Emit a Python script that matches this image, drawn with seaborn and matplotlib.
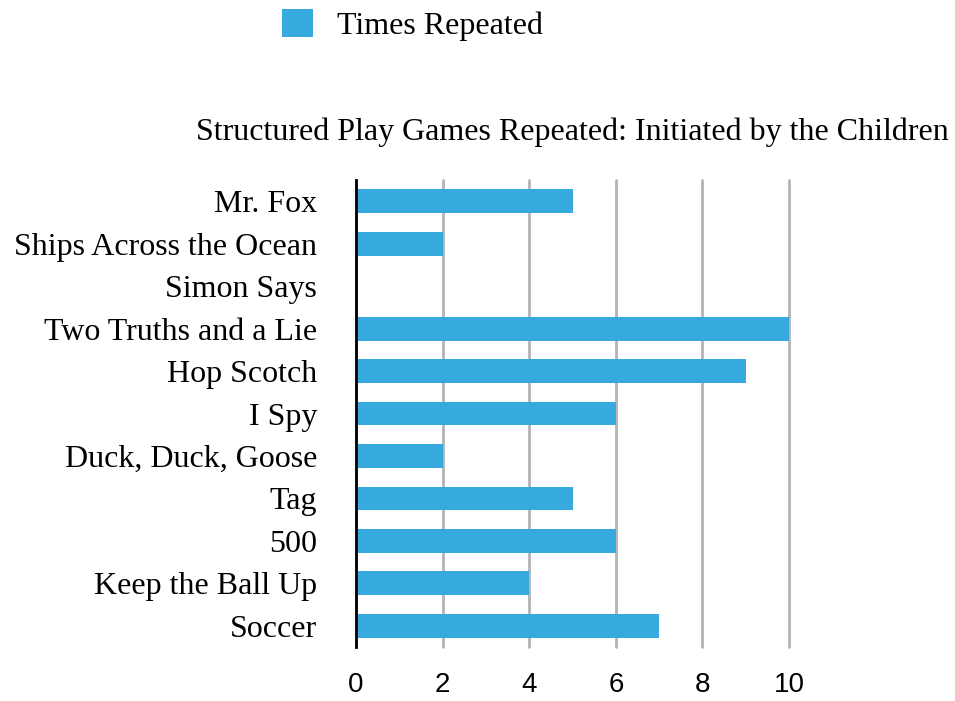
import matplotlib
matplotlib.use("Agg")
import matplotlib.pyplot as plt
import seaborn as sns
import pandas as pd
from matplotlib.patches import Patch

# данные
games = [
    "Mr. Fox",
    "Ships Across the Ocean",
    "Simon Says",
    "Two Truths and a Lie",
    "Hop Scotch",
    "I Spy",
    "Duck, Duck, Goose",
    "Tag",
    "500",
    "Keep the Ball Up",
    "Soccer",
]
times_repeated = [5, 2, 0, 10, 9, 6, 2, 5, 6, 4, 7]
x_ticks = [0, 2, 4, 6, 8, 10]

bar_color = "#36a9df"

df = pd.DataFrame({"game": games, "times": times_repeated})

sns.set_style("white")
plt.rcParams["font.family"] = ["Liberation Serif", "DejaVu Serif"]
plt.rcParams["text.color"] = "black"
plt.rcParams["xtick.color"] = "black"
plt.rcParams["ytick.color"] = "black"

fig = plt.figure(figsize=(9.55, 7.01), dpi=100)
ax = fig.add_axes([0.3728, 0.077, 0.4534, 0.666])

sns.barplot(data=df, x="times", y="game", orient="h", color=bar_color,
            saturation=1, width=0.56, linewidth=0, edgecolor="none", ax=ax)

ax.set_xlim(0, 10)
ax.set_ylim(10.5, -0.5)
ax.set_xticks(x_ticks)
ax.set_xticklabels([str(t) for t in x_ticks], family=["Liberation Sans", "DejaVu Sans"], fontsize=20)
ax.tick_params(axis="x", length=0, pad=18)
ax.tick_params(axis="y", length=0, pad=28, labelsize=23)
ax.xaxis.grid(True, color="#b3b3b3", linewidth=2)
for gl in ax.get_xgridlines():
    gl.set_clip_on(False)
ax.set_axisbelow(True)
for s in ["top", "right", "bottom"]:
    ax.spines[s].set_visible(False)
ax.spines["left"].set_color("black")
ax.spines["left"].set_linewidth(2)
ax.set_xlabel("")
ax.set_ylabel("")

ax.set_title("Structured Play Games Repeated: Initiated by the Children",
             fontsize=23, pad=29)

handles = [Patch(facecolor=bar_color, edgecolor="none", label="Times Repeated")]
fig.legend(handles=handles, loc="center", bbox_to_anchor=(0.432, 0.964),
           frameon=False, fontsize=23, handlelength=0.95, handleheight=0.95,
           handletextpad=0.75)

plt.savefig("out.png", dpi=100)
